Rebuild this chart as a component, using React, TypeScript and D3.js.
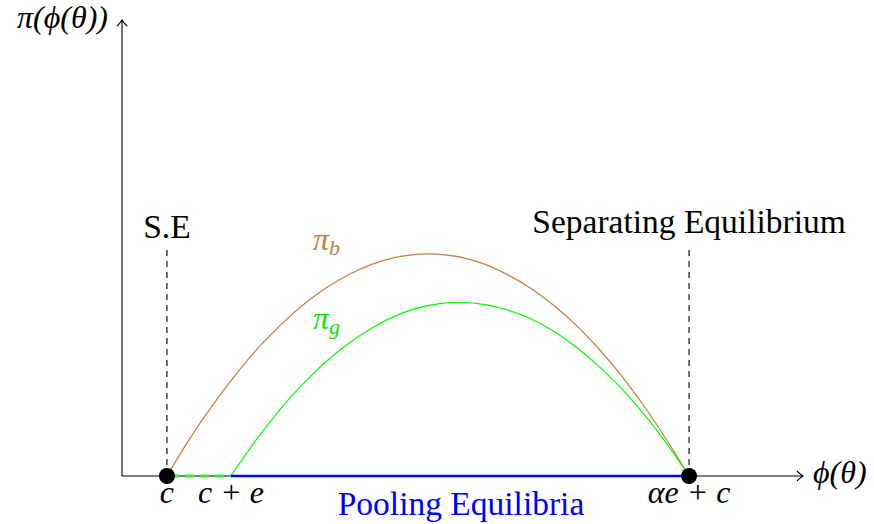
import React from "react";
import * as d3 from "d3";

// Data (abstract units)
const xMax = 15;
const yMax = 10;
const cX = 0.99;         // c
const ceX = 2.4;         // c + e
const aecX = 12.49;      // αe + c
const dashTop = 5.0;     // height of vertical dashed lines

const piBx = [0.99, 1.5, 2.0, 2.5, 3.0, 3.5, 4.0, 4.5, 5.0, 5.5, 6.0, 6.5, 6.74, 7.0, 7.5, 8.0, 8.5, 9.0, 9.5, 10.0, 10.5, 11.0, 11.5, 12.0, 12.49];
const piBy = [0, 0.83, 1.56, 2.22, 2.81, 3.32, 3.76, 4.13, 4.42, 4.64, 4.79, 4.86, 4.87, 4.86, 4.79, 4.64, 4.41, 4.12, 3.75, 3.31, 2.79, 2.20, 1.53, 0.79, 0];

const piGx = [2.40, 2.8, 3.2, 3.6, 4.0, 4.5, 5.0, 5.5, 6.0, 6.5, 7.0, 7.445, 8.0, 8.5, 9.0, 9.5, 10.0, 10.5, 11.0, 11.5, 12.0, 12.49];
const piGy = [0, 0.58, 1.11, 1.60, 2.03, 2.51, 2.91, 3.24, 3.50, 3.68, 3.78, 3.81, 3.76, 3.64, 3.45, 3.18, 2.83, 2.41, 1.92, 1.35, 0.71, 0];

const xTickVals = [cX, ceX, aecX];
const xTickLabels = ["c", "c + e", "αe + c"];

export default function App() {
  const W = 874, H = 524;
  const x = d3.scaleLinear().domain([0, xMax]).range([122, 803]);
  const y = d3.scaleLinear().domain([0, yMax]).range([476, 20]);
  const line = d3.line<[number, number]>().x(d => x(d[0])).y(d => y(d[1])).curve(d3.curveCatmullRom.alpha(0.5));
  const bPts = piBx.map((v, i) => [v, piBy[i]] as [number, number]);
  const gPts = piGx.map((v, i) => [v, piGy[i]] as [number, number]);
  const font = "'Liberation Serif', 'DejaVu Serif', serif";
  const fs = 32;
  const fsR = 33.5;
  const x0 = x(0), y0 = y(0);
  const xEnd = x(xMax), yEnd = y(yMax);

  return (
    <svg width={W} height={H} style={{ position: "absolute", left: 0, top: 0, background: "#fff" }} fontFamily={font}>
      {/* axes */}
      <line x1={x0} y1={y0} x2={xEnd} y2={y0} stroke="#000" strokeWidth={1.1} />
      <line x1={x0} y1={y0} x2={x0} y2={yEnd} stroke="#000" strokeWidth={1.1} />
      <path d={`M${xEnd - 6},${y0 - 5} Q${xEnd - 2},${y0 - 1} ${xEnd},${y0} Q${xEnd - 2},${y0 + 1} ${xEnd - 6},${y0 + 5}`} fill="none" stroke="#000" strokeWidth={1.1} />
      <path d={`M${x0 - 5},${yEnd + 6} Q${x0 - 1},${yEnd + 2} ${x0},${yEnd} Q${x0 + 1},${yEnd + 2} ${x0 + 5},${yEnd + 6}`} fill="none" stroke="#000" strokeWidth={1.1} />

      {/* vertical dashed lines */}
      {[cX, aecX].map((v, i) => (
        <line key={i} x1={x(v)} y1={y0} x2={x(v)} y2={y(dashTop)} stroke="#000" strokeWidth={1.1} strokeDasharray="6 5" />
      ))}

      {/* curves */}
      <path d={line(bPts) || ""} fill="none" stroke="#bf8040" strokeWidth={1.2} />
      <path d={line(gPts) || ""} fill="none" stroke="#00ff00" strokeWidth={1.2} />

      {/* pooling segments */}
      <line x1={x(cX)} y1={y0} x2={x(ceX)} y2={y0} stroke="#33ee33" strokeWidth={3.2} strokeDasharray="9 6" strokeDashoffset={-3} />
      <line x1={x(ceX)} y1={y0} x2={x(aecX)} y2={y0} stroke="#0000ff" strokeWidth={2.6} />

      {/* dots */}
      {[cX, aecX].map((v, i) => (
        <circle key={i} cx={x(v)} cy={y0} r={8} fill="#000" />
      ))}

      {/* tick labels */}
      {xTickVals.map((v, i) => (
        <text key={i} x={x(v)} y={503} fontSize={fs} fontStyle="italic" textAnchor="middle">{xTickLabels[i]}</text>
      ))}

      {/* axis labels */}
      <text x={108} y={28} fontSize={fs} fontStyle="italic" textAnchor="end">π(ϕ(θ))</text>
      <text x={813} y={483} fontSize={fs} fontStyle="italic">ϕ(θ)</text>

      {/* annotations */}
      <text x={x(cX)} y={238} fontSize={fsR} textAnchor="middle">S.E</text>
      <text x={x(aecX)} y={233} fontSize={fsR} textAnchor="middle">Separating Equilibrium</text>
      <text x={461} y={515} fontSize={fsR} fill="#0000ff" textAnchor="middle">Pooling Equilibria</text>

      <text x={313} y={250} fontSize={fs} fill="#bf8040" fontStyle="italic">π<tspan fontSize={22} dy={5}>b</tspan></text>
      <text x={313} y={329} fontSize={fs} fill="#00ee00" fontStyle="italic">π<tspan fontSize={22} dy={5}>g</tspan></text>
    </svg>
  );
}
